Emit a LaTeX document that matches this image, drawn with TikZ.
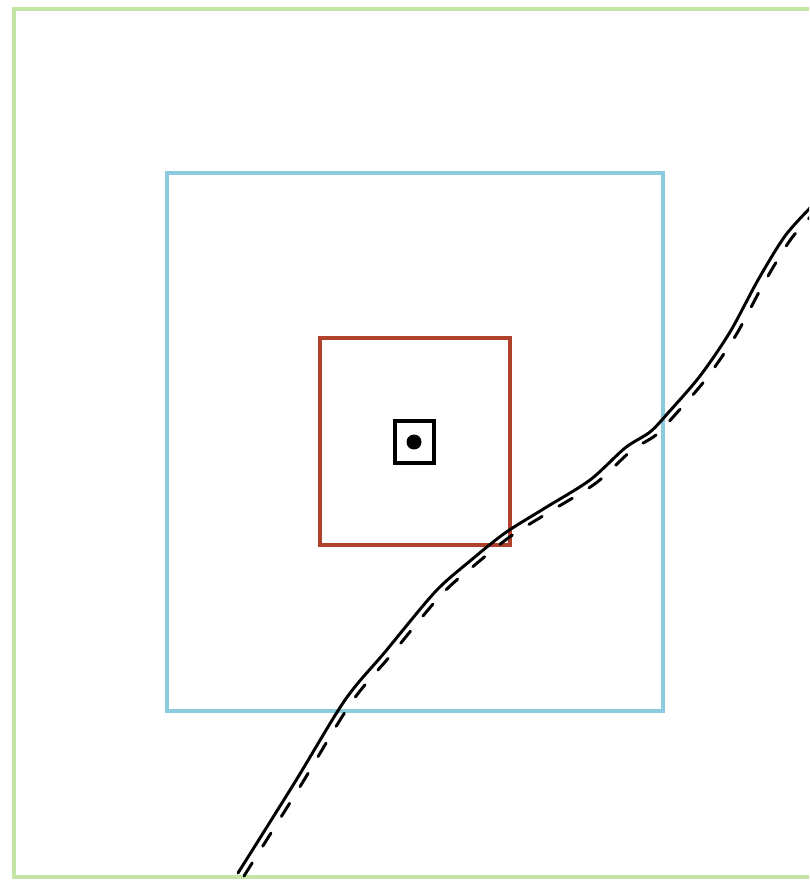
\documentclass[tikz,border=0pt]{standalone}
\definecolor{framegreen}{RGB}{196, 230, 165}
\definecolor{zoneblue}{RGB}{140, 203, 222}
\definecolor{corered}{RGB}{175, 65, 45}
\usetikzlibrary{calc}

\begin{document}
\begin{tikzpicture}[x=0.025cm, y=-0.025cm,
    zone/.style={line width=2.2pt},
    trace/.style={black, line width=2.1pt, line cap=round}]
  \clip (0,0) rectangle (809,880);
  \fill[white] (0,0) rectangle (809,880);
  % nested areas
  \draw[zone, framegreen] (14,9) rectangle (830,877);
  \draw[zone, zoneblue] (167,173) rectangle (663,711);
  \draw[zone, corered] (320,338) rectangle (510,545);
  \draw[line width=2.6pt] (395,421) rectangle (434,463);
  \coordinate (centre) at (414,442);
  \fill (centre) circle (7.5);
  % line and its dashed copy
  \draw[trace] plot[smooth, tension=0.5] coordinates {
    (238,873) (295,782) (345,700) (385,652) (435,592) (470,561) (505,533)
    (545,508) (590,480) (625,448) (650,432) (668,413) (700,376) (730,332)
    (758,280) (785,236) (812,206)};
  \draw[trace, dash pattern=on 11pt off 14pt, shift={(6,3)}] plot[smooth, tension=0.5] coordinates {
    (238,873) (295,782) (345,700) (385,652) (435,592) (470,561) (505,533)
    (545,508) (590,480) (625,448) (650,432) (668,413) (700,376) (730,332)
    (758,280) (785,236) (812,206)};
\end{tikzpicture}
\end{document}
